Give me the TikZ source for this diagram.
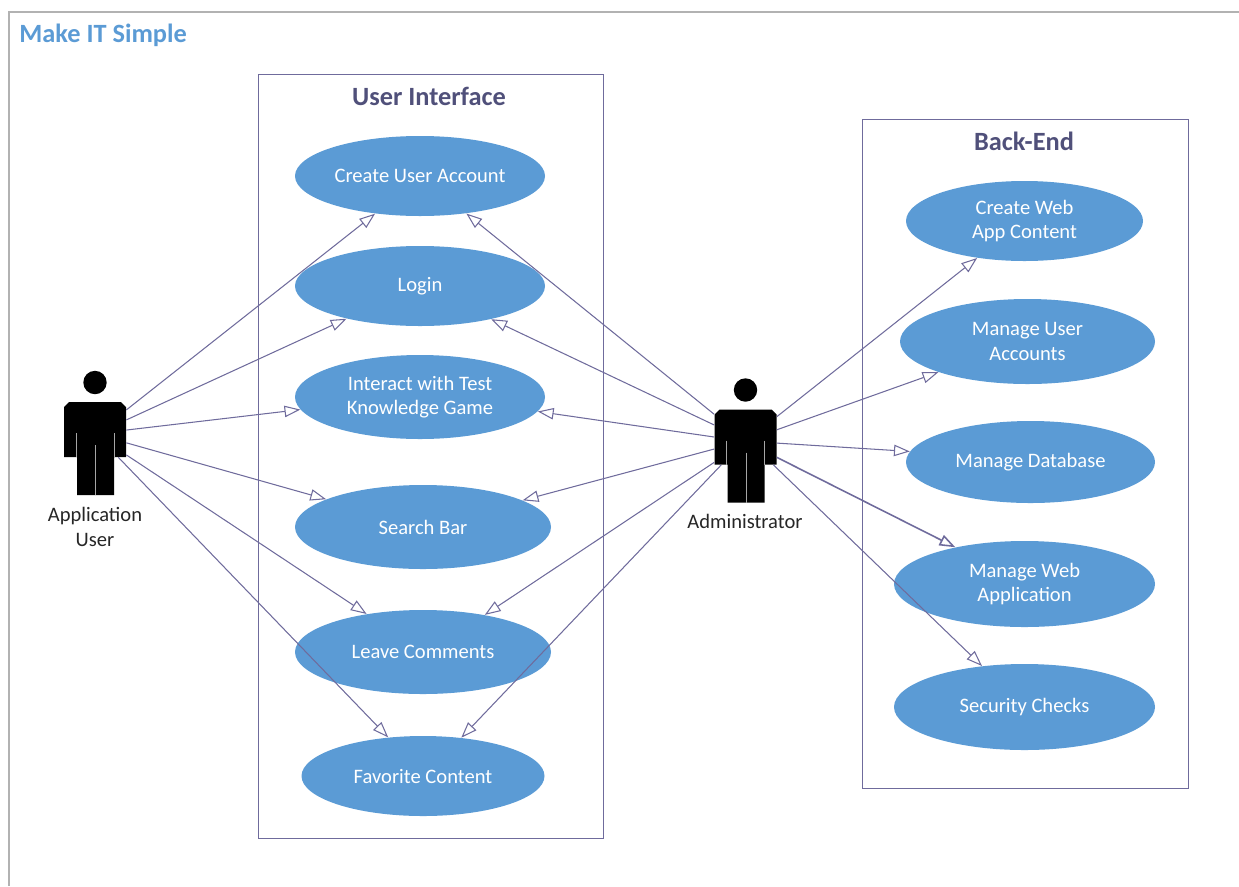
\documentclass[tikz,border=0pt]{standalone}
\usepackage{fontspec}
\setmainfont{Carlito}
\usetikzlibrary{arrows.meta, shapes.geometric}
\definecolor{ucblue}{HTML}{5B9BD5}
\definecolor{ucline}{HTML}{6F6B9C}
\definecolor{uctitle}{HTML}{50507A}
\tikzset{
	usecase/.style 2 args={ellipse, fill=ucblue, text=white, inner sep=0pt, align=center,
		minimum width=#1*0.02cm, minimum height=#2*0.02cm, font=\fontsize{11.7}{14}\selectfont},
	panel/.style={draw=ucline, line width=0.45pt},
	paneltitle/.style={text=uctitle, font=\fontsize{15}{17}\selectfont\bfseries},
	actorbody/.style={rectangle, inner sep=0pt, minimum width=62*0.02cm, minimum height=55*0.02cm},
	actorlabel/.style={align=center, text=black!85, font=\fontsize{11.7}{14}\selectfont},
	link/.style={->, draw=ucline, line width=0.6pt},
}
% stick figure around the body node #1
\newcommand{\actorfig}[1]{%
	\begin{scope}[shift={(#1.center)}]
		\fill (0,-47) circle (11.7*0.02cm);
		\fill (-31,-22.5) -- (-26,-27.5) -- (26,-27.5) -- (31,-22.5) -- (31,27.5) -- (19,27.5)
			-- (19,65.5) -- (-18,65.5) -- (-18,27.5) -- (-31,27.5) -- cycle;
		\draw[gray!70, line width=0.4pt] (-19,3.5) -- (-19,27.5);
		\draw[gray!70, line width=0.4pt] (19,3.5) -- (19,27.5);
		\draw[gray!70, line width=0.4pt] (0.5,15.5) -- (0.5,65.5);
	\end{scope}}

\begin{document}
\begin{tikzpicture}[x=0.02cm, y=-0.02cm, >={Triangle[open, length=9pt, width=6.5pt]}]
\useasboundingbox (0,0) rectangle (1239,886);

%========================
% Frame and heading
%========================
\draw[gray!60, line width=0.7pt] (9,886) -- (9,12) -- (1239,12);
\node[anchor=west, inner sep=0pt, text=ucblue, font=\fontsize{15}{17}\selectfont\bfseries] (heading) at (19,35) {Make IT Simple};

%========================
% Left: User Interface
%========================
\draw[panel] (258,74) rectangle (603,838);
\node[paneltitle] (uiTitle) at (429,96) {User Interface};

\node[usecase={250}{80}] (createAccount) at (420,176) {Create User Account};
\node[usecase={250}{80}] (login) at (420,286) {Login};
\node[usecase={250}{84}] (interactGame) at (420,397) {Interact with Test\\Knowledge Game};
\node[usecase={256}{84}] (searchBar) at (423,527) {Search Bar};
\node[usecase={256}{84}] (leaveComments) at (423,652) {Leave Comments};
\node[usecase={243}{80}] (favContent) at (423,776) {Favorite Content};

%========================
% Right: Back-End
%========================
\draw[panel] (862,119) rectangle (1188,788);
\node[paneltitle] (beTitle) at (1024,141) {Back-End};

\node[usecase={237}{80}] (createContent) at (1024.5,221) {Create Web\\App Content};
\node[usecase={255}{85}] (manageUsers) at (1027.5,341.5) {Manage User\\Accounts};
\node[usecase={249}{82}] (manageDb) at (1030.5,462) {Manage Database};
\node[usecase={261}{86}] (manageApp) at (1024.5,584) {Manage Web\\Application};
\node[usecase={261}{86}] (securityChecks) at (1024.5,707) {Security Checks};

%========================
% Actors
%========================
\node[actorbody] (appUser) at (95,429.5) {};
\actorfig{appUser}
\node[actorlabel] (appUserLabel) at (95,527) {Application\\User};

\node[actorbody] (admin) at (745.5,437) {};
\actorfig{admin}
\node[actorlabel] (adminLabel) at (745,521) {Administrator};

%========================
% Links
%========================
% application user
\draw[link] (appUser.32) -- (createAccount.220);
\draw[link] (appUser.17) -- (login.204.6);
\draw[link] (appUser.-1) -- (interactGame.186.3);
\draw[link] (appUser.-23.5) -- (searchBar.164.3);
\draw[link] (appUser.-39.4) -- (leaveComments.146.8);
\draw[link] (appUser.-50.6) -- (favContent.132.8);

% administrator to user interface
\draw[link] (admin.144.2) -- (createAccount.-39);
\draw[link] (admin.159.7) -- (login.-25.6);
\draw[link] (admin.180) -- (interactGame.-7.7);
\draw[link] (admin.201.5) -- (searchBar.15);
\draw[link] (admin.219.3) -- (leaveComments.31.8);
\draw[link] (admin.229) -- (favContent.45.8);

% administrator to back-end
\draw[link] (admin.33.3) -- (createContent.218.7);
\draw[link] (admin.13) -- (manageUsers.199.8);
\draw[link] (admin.-11) -- (manageDb.175.9);
\draw[link, line width=0.9pt] (admin.-33) -- (manageApp.152.3);
\draw[link] (admin.-45.5) -- (securityChecks.136);

\end{tikzpicture}
\end{document}
